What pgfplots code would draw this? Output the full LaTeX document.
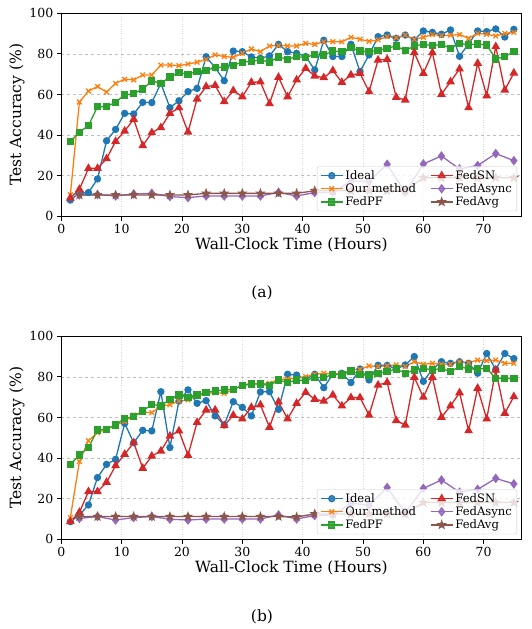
\documentclass[border=0pt]{standalone}
\usepackage{fontspec}
\setmainfont{DejaVu Serif}
\usepackage{pgfplots}
\usepackage{pgfplotstable}
\pgfplotsset{compat=1.18}
\definecolor{c0}{HTML}{1F77B4}
\definecolor{c1}{HTML}{FF7F0E}
\definecolor{c2}{HTML}{2CA02C}
\definecolor{c3}{HTML}{D62728}
\definecolor{c4}{HTML}{9467BD}
\definecolor{c5}{HTML}{8C564B}

% filled five-point star, like matplotlib's '*'
\pgfdeclareplotmark{fstar}{%
  \pgfpathmoveto{\pgfpointpolar{90}{\pgfplotmarksize}}%
  \pgfpathlineto{\pgfpointpolar{126}{0.42\pgfplotmarksize}}%
  \pgfpathlineto{\pgfpointpolar{162}{\pgfplotmarksize}}%
  \pgfpathlineto{\pgfpointpolar{198}{0.42\pgfplotmarksize}}%
  \pgfpathlineto{\pgfpointpolar{234}{\pgfplotmarksize}}%
  \pgfpathlineto{\pgfpointpolar{270}{0.42\pgfplotmarksize}}%
  \pgfpathlineto{\pgfpointpolar{306}{\pgfplotmarksize}}%
  \pgfpathlineto{\pgfpointpolar{342}{0.42\pgfplotmarksize}}%
  \pgfpathlineto{\pgfpointpolar{18}{\pgfplotmarksize}}%
  \pgfpathlineto{\pgfpointpolar{54}{0.42\pgfplotmarksize}}%
  \pgfpathclose\pgfusepathqfillstroke}

% t  ideal  ours  fedpf  fedsn   -- panel (a)
\pgfplotstableread{
t ideal ours pf sn
1.5 8.0 10.5 36.8 9.0
3 11.6 56.3 41.4 13.3
4.5 11.7 61.7 44.7 23.6
6 18.4 63.9 54.0 23.6
7.5 37.2 61.2 54.0 28.4
9 42.8 65.5 56.2 36.9
10.5 50.7 67.5 59.8 42.0
12 50.4 67.2 60.4 47.8
13.5 56.1 69.6 62.7 34.8
15 56.0 69.6 66.7 41.2
16.5 65.5 74.5 65.5 43.7
18 53.5 74.5 68.6 50.7
19.5 56.9 74.2 70.9 53.5
21 61.4 75.0 70.0 41.5
22.5 63.0 75.9 71.3 57.8
24 78.6 77.3 71.9 63.9
25.5 73.2 79.5 73.2 64.5
27 66.8 78.7 73.6 56.5
28.5 81.4 78.3 74.4 61.9
30 81.1 80.3 75.9 58.9
31.5 78.5 82.4 76.4 66.0
33 77.8 81.1 77.0 66.2
34.5 79.0 83.9 76.0 55.5
36 84.7 84.1 78.5 68.5
37.5 81.1 83.9 77.3 58.9
39 80.3 83.9 78.7 67.2
40.5 78.7 85.2 78.2 72.9
42 72.1 84.7 79.8 69.1
43.5 86.7 86.0 79.5 68.3
45 78.7 86.0 81.4 71.8
46.5 78.7 85.9 81.1 66.0
48 84.7 88.2 83.1 69.6
49.5 71.3 87.2 81.4 70.4
51 79.5 86.2 81.1 61.4
52.5 88.5 86.9 81.8 77.0
54 89.3 88.5 82.8 77.3
55.5 87.7 88.0 83.9 58.6
57 89.3 89.3 81.6 57.3
58.5 86.9 87.2 83.9 80.6
60 91.3 88.2 84.7 70.4
61.5 90.6 89.5 84.1 80.6
63 89.7 89.0 84.6 60.1
64.5 91.8 89.2 82.8 66.3
66 78.8 89.5 85.2 72.6
67.5 85.0 87.7 84.4 53.5
69 91.3 90.1 84.9 75.4
70.5 91.0 89.7 84.4 59.4
72 92.3 88.8 77.5 83.6
73.5 88.3 90.1 78.7 62.2
75 92.1 90.6 81.1 70.6
}\dataA

% FedAsync and FedAvg, every 3 hours -- panel (a)
\pgfplotstableread{
t async avg
3 10.5 10.5
6 10.7 10.5
9 10.0 10.5
12 11.0 10.5
15 11.3 10.5
18 9.7 10.5
21 9.2 10.5
24 10.0 11.3
27 10.0 11.3
30 10.0 11.3
33 10.0 11.3
36 11.8 11.3
39 10.0 11.3
42 11.7 12.6
45 11.8 12.6
48 17.4 12.6
51 17.1 12.6
54 25.6 12.6
57 11.8 12.6
60 25.8 19.0
63 29.7 19.0
66 23.3 19.0
69 25.0 19.0
72 30.9 19.0
75 27.4 19.0
}\slowA

% panel (b)
\pgfplotstableread{
t ideal ours pf sn
1.5 8.7 10.7 36.9 8.7
3 12.0 38.3 41.5 13.3
4.5 16.9 48.6 45.2 23.5
6 30.4 52.5 53.9 23.5
7.5 36.9 54.4 54.2 28.1
9 39.4 56.2 56.3 36.3
10.5 57.1 58.0 59.6 41.9
12 47.6 61.2 60.4 47.6
13.5 53.7 62.6 63.2 35.0
15 53.4 62.4 66.5 41.0
16.5 72.7 65.7 65.7 43.5
18 45.2 66.3 69.0 50.9
19.5 68.1 68.1 71.1 53.4
21 73.6 68.6 70.0 41.4
22.5 67.0 70.6 71.1 57.6
24 68.3 71.9 72.2 63.7
25.5 60.8 72.2 73.1 63.7
27 56.3 71.9 73.6 56.0
28.5 67.8 73.6 73.9 61.1
30 65.0 76.0 75.7 59.3
31.5 60.8 76.8 76.5 65.0
33 72.6 76.5 76.5 66.2
34.5 72.7 76.8 75.7 55.2
36 64.0 78.8 78.5 67.7
37.5 81.3 79.0 77.2 59.3
39 80.9 79.3 78.5 67.0
40.5 78.8 80.1 78.2 72.4
42 81.3 81.3 79.8 69.0
43.5 74.7 81.8 79.6 68.1
45 81.3 81.3 81.3 71.1
46.5 81.8 81.8 81.0 65.7
48 77.2 83.4 82.9 69.8
49.5 83.9 83.7 81.3 69.8
51 78.5 85.4 81.0 61.2
52.5 85.7 85.1 81.8 76.0
54 85.7 85.5 82.6 77.3
55.5 83.9 85.9 83.9 58.5
57 85.9 85.1 81.8 56.3
58.5 90.0 87.5 83.4 79.8
60 77.8 86.2 84.2 70.0
61.5 83.7 86.7 83.4 79.8
63 87.5 86.2 84.2 60.1
64.5 86.7 86.2 82.6 65.7
66 87.5 87.5 85.1 72.2
67.5 86.7 87.0 83.9 53.5
69 81.8 88.3 83.9 74.4
70.5 91.5 88.0 84.2 59.3
72 83.7 88.3 79.3 83.4
73.5 91.5 86.7 79.3 62.1
75 89.0 86.7 79.3 70.3
}\dataB

\pgfplotstableread{
t async avg
3 10.3 11.2
6 11.2 11.2
9 9.5 11.2
12 10.7 11.2
15 11.2 11.2
18 9.9 11.2
21 9.5 11.2
24 10.0 11.2
27 10.0 11.2
30 10.0 11.2
33 10.0 11.2
36 12.0 11.2
39 10.0 11.0
42 11.7 12.5
45 12.0 12.5
48 17.7 12.5
51 16.9 12.5
54 25.5 12.5
57 13.1 12.5
60 25.1 18.1
63 29.2 18.1
66 23.2 18.1
69 24.6 18.1
72 30.0 18.1
75 27.3 18.1
}\slowB

\pgfplotsset{
  accaxis/.style={
    scale only axis, width=460.4pt, height=203pt,
    xmin=0, xmax=76.3, ymin=0, ymax=100,
    xtick={0,10,...,70}, ytick={0,20,...,100},
    tick align=outside, xtick pos=bottom, ytick pos=left,
    major tick length=4.5pt,
    tick style={line width=0.9pt, black},
    ticklabel style={font=\fontsize{12.5}{14}\selectfont},
    /pgf/number format/assume math mode=true,
    xlabel={Wall-Clock Time (Hours)}, ylabel={Test Accuracy (\%)},
    label style={font=\fontsize{15.5}{18}\selectfont},
    xlabel style={yshift=3pt},
    ylabel style={yshift=-2pt},
    ymajorgrids, xmajorgrids,
    y grid style={dashed, black!25, line width=0.7pt},
    x grid style={dotted, black!15, line width=0.7pt},
    axis line style={line width=0.9pt},
    legend style={at={(0.99,0.025)}, anchor=south east, draw=black!20,
      rounded corners=2pt, fill=white, fill opacity=0.8, text opacity=1,
      font=\fontsize{11.6}{13}\selectfont, row sep=-1.2pt,
      /tikz/every even column/.append style={column sep=12pt}},
    legend columns=3, transpose legend,
    legend cell align=left,
    legend image code/.code={
      \draw[mark repeat=2, mark phase=2, ##1] plot coordinates {(0pt,0pt) (11pt,0pt) (22pt,0pt)};},
  },
  sline/.style={line width=1.3pt, mark options={solid}},
}

\begin{document}
\begin{tikzpicture}
\path[use as bounding box] (0,0) rectangle (531pt,629pt);

\begin{axis}[accaxis, at={(61.3pt,412.7pt)}, anchor=south west]
\addplot[sline, c0, mark=*, mark size=3pt] table[x=t, y=ideal] {\dataA};
\addlegendentry{Ideal}
\addplot[sline, c1, mark=x, mark size=3.3pt] table[x=t, y=ours] {\dataA};
\addlegendentry{Our method}
\addplot[sline, c2, mark=square*, mark size=3pt] table[x=t, y=pf] {\dataA};
\addlegendentry{FedPF}
\addplot[sline, c3, mark=triangle*, mark size=3.8pt] table[x=t, y=sn] {\dataA};
\addlegendentry{FedSN}
\addplot[sline, c4, mark=diamond*, mark size=3.8pt] table[x=t, y=async] {\slowA};
\addlegendentry{FedAsync}
\addplot[sline, c5, mark=fstar, mark size=3.6pt] table[x=t, y=avg] {\slowA};
\addlegendentry{FedAvg}
\end{axis}

\begin{axis}[accaxis, at={(61.3pt,89.7pt)}, anchor=south west]
\addplot[sline, c0, mark=*, mark size=3pt] table[x=t, y=ideal] {\dataB};
\addlegendentry{Ideal}
\addplot[sline, c1, mark=x, mark size=3.3pt] table[x=t, y=ours] {\dataB};
\addlegendentry{Our method}
\addplot[sline, c2, mark=square*, mark size=3pt] table[x=t, y=pf] {\dataB};
\addlegendentry{FedPF}
\addplot[sline, c3, mark=triangle*, mark size=3.8pt] table[x=t, y=sn] {\dataB};
\addlegendentry{FedSN}
\addplot[sline, c4, mark=diamond*, mark size=3.8pt] table[x=t, y=async] {\slowB};
\addlegendentry{FedAsync}
\addplot[sline, c5, mark=fstar, mark size=3.6pt] table[x=t, y=avg] {\slowB};
\addlegendentry{FedAvg}
\end{axis}

\node[font=\fontsize{15.5}{18}\selectfont] at (262pt,336pt) {(a)};
\node[font=\fontsize{15.5}{18}\selectfont] at (262pt,12pt) {(b)};
\end{tikzpicture}
\end{document}
